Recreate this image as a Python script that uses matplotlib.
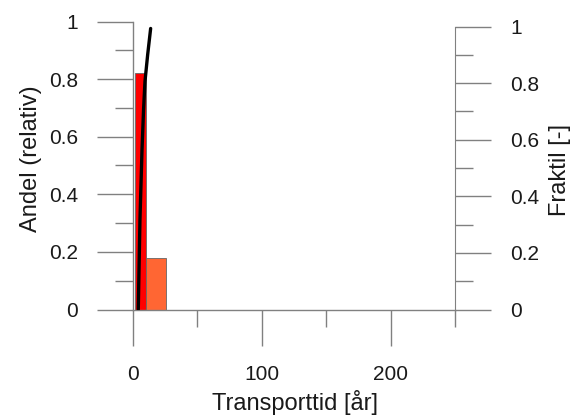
import matplotlib
matplotlib.use("Agg")
import matplotlib.pyplot as plt
from matplotlib.ticker import MultipleLocator, FixedLocator

plt.rcParams['font.family'] = ['Liberation Sans', 'DejaVu Sans']

# Data
bin_edges = [1.5, 10.0, 25.5]
shares = [0.82, 0.18]
bar_colors = ['#ff0000', '#ff6633']
cdf_time = [4.1, 5.4, 7.0, 8.2, 9.3, 11.4, 13.7]
cdf_frac = [0.0, 0.318, 0.565, 0.707, 0.806, 0.901, 0.993]
x_major = [0, 100, 200]
x_minor = [50, 150, 250]
y_ticks = [0, 0.2, 0.4, 0.6, 0.8, 1]
y_labels = ['0', '0.2', '0.4', '0.6', '0.8', '1']

W, H = 578, 415
fig = plt.figure(figsize=(W/100, H/100), dpi=100)
L, R, T, B = 133, 455, 21.5, 309.5
ax = fig.add_axes([L/W, (H-B)/H, (R-L)/W, (B-T)/H])
ax.set_xlim(0, 250)
ax.set_ylim(0, 1)

gray = '#808080'
txt = '#1a1a1a'
px2pt = 72/100

lefts = bin_edges[:-1]
widths = [b - a for a, b in zip(bin_edges[:-1], bin_edges[1:])]
ax.bar(lefts, shares, width=widths, align='edge', color=bar_colors,
       edgecolor='#666666', linewidth=0.6, zorder=2)

for s in ['top', 'right']:
    ax.spines[s].set_visible(False)
for s in ['left', 'bottom']:
    ax.spines[s].set_color(gray)
    ax.spines[s].set_linewidth(1)

ax.xaxis.set_major_locator(FixedLocator(x_major))
ax.xaxis.set_minor_locator(FixedLocator(x_minor))
ax.set_xticklabels([str(v) for v in x_major])
ax.set_yticks(y_ticks)
ax.set_yticklabels(y_labels)
ax.yaxis.set_minor_locator(MultipleLocator(0.1))

fs = 15
ax.tick_params(axis='both', which='major', length=36*px2pt, width=1, color=gray,
               labelsize=fs, labelcolor=txt, direction='out')
ax.tick_params(axis='both', which='minor', length=18*px2pt, width=1, color=gray,
               direction='out')
ax.tick_params(axis='x', which='minor', length=17*px2pt)
ax.tick_params(axis='y', which='major', pad=19*px2pt)
ax.tick_params(axis='x', which='major', pad=20*px2pt)

ax2 = ax.twinx()
ax2.set_ylim(0, 288/283)
ax2.set_xlim(0, 250)
for s in ['top', 'left', 'bottom']:
    ax2.spines[s].set_visible(False)
ax2.spines['right'].set_color(gray)
ax2.spines['right'].set_bounds(0, 1)
ax2.set_yticks(y_ticks)
ax2.set_yticklabels(y_labels)
ax2.yaxis.set_minor_locator(FixedLocator([0.1, 0.3, 0.5, 0.7, 0.9]))
ax2.tick_params(axis='y', which='major', length=36*px2pt, width=1, color=gray,
                labelsize=fs, labelcolor=txt, pad=19*px2pt)
ax2.tick_params(axis='y', which='minor', length=18*px2pt, width=1, color=gray)

ax2.plot(cdf_time, cdf_frac, color='black', linewidth=2.4, solid_capstyle='round', zorder=3)

lfs = 17
fig.text(31.5/W, 1 - 158.5/H, 'Andel (relativ)', rotation=90, ha='center', va='center',
         fontsize=lfs, color=txt)
fig.text(560/W, 1 - 170/H, 'Fraktil [-]', rotation=90, ha='center', va='center',
         fontsize=lfs, color=txt)
fig.text(295.5/W, 1 - 402/H, 'Transporttid [år]', ha='center', va='center',
         fontsize=lfs, color=txt)

fig.savefig('out.png', dpi=100)
